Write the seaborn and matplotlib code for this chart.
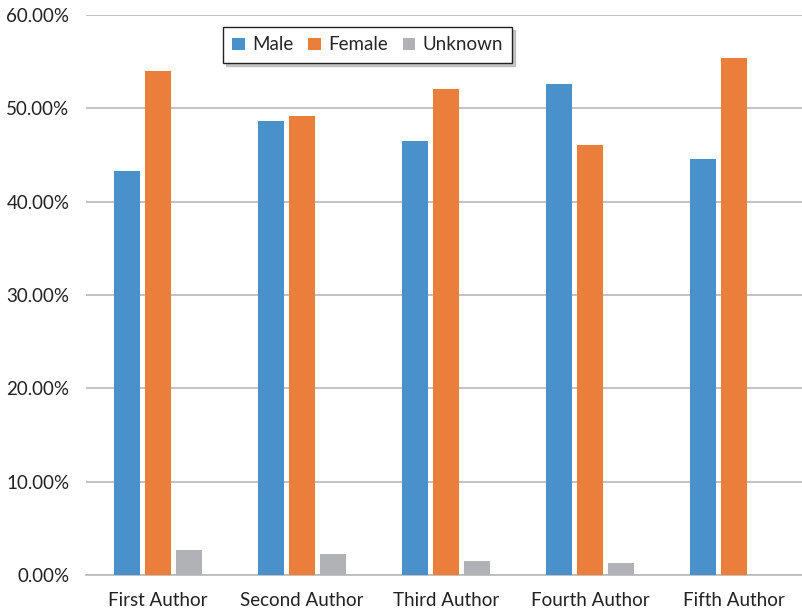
import matplotlib
matplotlib.use("Agg")
import matplotlib.pyplot as plt
from matplotlib.ticker import FuncFormatter
import seaborn as sns
import pandas as pd

# Share of authors by gender at each author position (percent)
positions = ["First Author", "Second Author", "Third Author", "Fourth Author", "Fifth Author"]
male = [43.3, 48.6, 46.5, 52.6, 44.6]
female = [54.0, 49.2, 52.1, 46.1, 55.4]
unknown = [2.7, 2.3, 1.5, 1.3, 0.0]
genders = ["Male", "Female", "Unknown"]
colors = ["#4A90C9", "#EB7E3B", "#B1B2B5"]

df = pd.DataFrame({
    "position": positions * 3,
    "gender": [g for g in genders for _ in positions],
    "share": male + female + unknown,
})

sns.set_theme(style="white")
plt.rcParams["font.family"] = ["Lato", "DejaVu Sans"]

W, H = 802, 613
fig = plt.figure(figsize=(W / 100, H / 100), dpi=100)
ax = fig.add_axes([86 / W, 1 - 575 / H, 720 / W, 560 / H])

sns.barplot(data=df, x="position", y="share", hue="gender", order=positions,
            hue_order=genders, palette=colors, width=0.65, gap=0.17,
            saturation=1, errorbar=None, linewidth=0, ax=ax, zorder=3)

ax.set_xlim(-0.5, 4.5)
ax.set_ylim(0, 60)
ax.set_yticks(range(0, 61, 10))
ax.yaxis.set_major_formatter(FuncFormatter(lambda v, _: f"{v:.2f}%"))
ax.grid(axis="y", color="#BDBDBD", linewidth=1.3, zorder=0)
ax.set_xlabel("")
ax.set_ylabel("")
for side in ["left", "right", "top"]:
    ax.spines[side].set_visible(False)
ax.spines["bottom"].set_color("#BDBDBD")
ax.spines["bottom"].set_linewidth(1.3)
ax.tick_params(axis="y", length=0, pad=12, labelsize=13.5, labelcolor="#222222")
ax.tick_params(axis="x", length=0, pad=12, labelsize=13.5, labelcolor="#222222")

handles, labels = ax.get_legend_handles_labels()
leg = ax.legend(handles, labels, loc="upper left", bbox_to_anchor=((223 - 86) / 720, 1 - (27 - 15) / 560),
                ncol=3, frameon=True, fancybox=False,
                shadow={"ox": 2, "oy": -2, "color": "#B0B0B0", "alpha": 0.7},
                fontsize=13.5, handlelength=0.65, handleheight=0.65, handletextpad=0.4,
                columnspacing=0.8, borderpad=0.5, borderaxespad=0)
leg.get_frame().set_edgecolor("#222222")
leg.get_frame().set_linewidth(1.0)

fig.savefig("out.png", dpi=100)
